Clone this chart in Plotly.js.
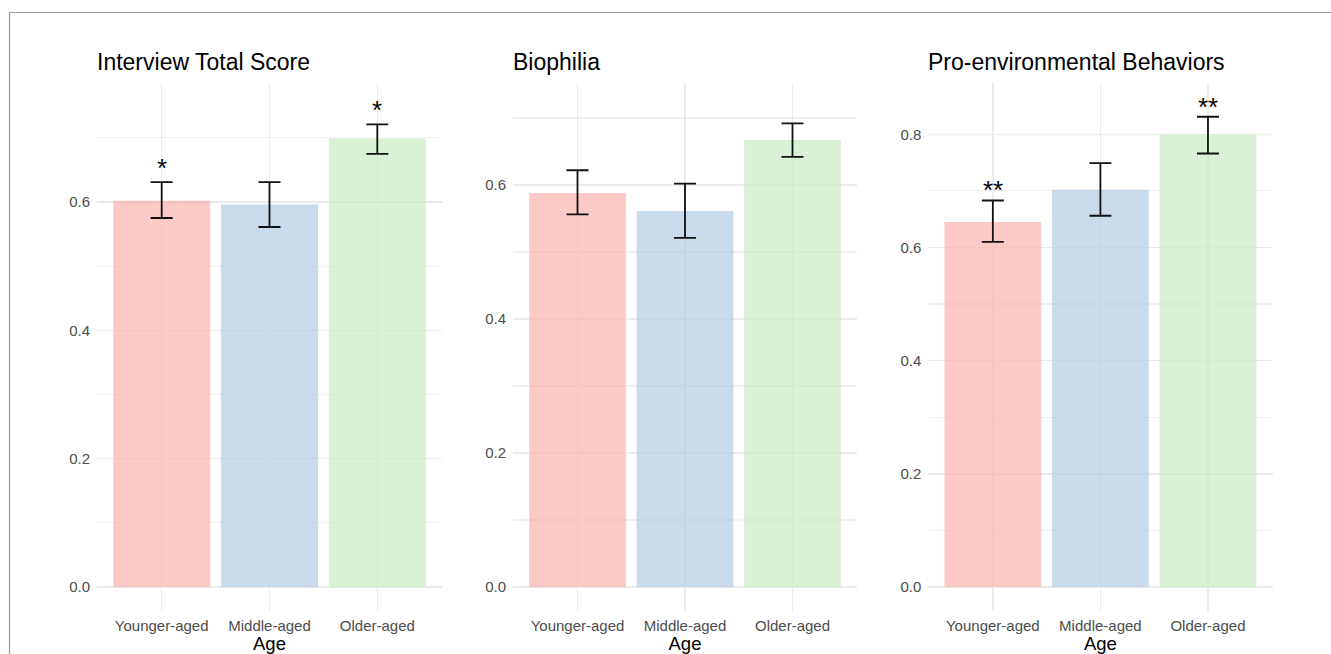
<!DOCTYPE html>
<html><head><meta charset="utf-8">
<script src="https://cdn.plot.ly/plotly-3.0.1.min.js"></script>
<style>html,body{margin:0;padding:0;background:#fff}#chart{width:1331px;height:654px}</style>
</head><body><div id="chart"></div>
<script>
// ---- data ----
const categories = ["Younger-aged", "Middle-aged", "Older-aged"];
const panelTitles = ["Interview Total Score", "Biophilia", "Pro-environmental Behaviors"];
const xAxisTitle = "Age";

const interviewMean  = [0.602, 0.596, 0.699];
const interviewLower = [0.575, 0.561, 0.675];
const interviewUpper = [0.631, 0.631, 0.721];
const interviewSig   = ["*", "", "*"];

const biophiliaMean  = [0.588, 0.561, 0.667];
const biophiliaLower = [0.556, 0.521, 0.642];
const biophiliaUpper = [0.622, 0.602, 0.692];
const biophiliaSig   = ["", "", ""];

const behaviorMean  = [0.645, 0.702, 0.800];
const behaviorLower = [0.610, 0.656, 0.766];
const behaviorUpper = [0.683, 0.749, 0.831];
const behaviorSig   = ["**", "", "**"];

// ---- styling ----
const W = 1331, H = 654;
const barColors = ["rgba(251,180,174,0.7)", "rgba(179,205,227,0.7)", "rgba(204,235,197,0.7)"];
const FONT = '"Liberation Sans", Arial, Helvetica, sans-serif';
const panels = [
  {mean: interviewMean, lo: interviewLower, hi: interviewUpper, sig: interviewSig,
   px: [97, 442], yr: [-0.0374, 0.7854], sigShift: 14},
  {mean: biophiliaMean, lo: biophiliaLower, hi: biophiliaUpper, sig: biophiliaSig,
   px: [513, 857], yr: [-0.0358, 0.7522], sigShift: 14},
  {mean: behaviorMean, lo: behaviorLower, hi: behaviorUpper, sig: behaviorSig,
   px: [928.3, 1272.5], yr: [-0.0424, 0.8906], sigShift: 10}
];
const yDom = [1 - 611 / H, 1 - 83 / H];

const traces = [];
const layout = {
  width: W, height: H,
  margin: {l: 0, r: 0, t: 0, b: 0},
  paper_bgcolor: "#ffffff", plot_bgcolor: "#ffffff",
  showlegend: false,
  font: {family: FONT, color: "#000"},
  annotations: [],
  shapes: [{
    type: "rect", xref: "paper", yref: "paper",
    x0: 9.5 / W, x1: 1.02, y0: -0.02, y1: 1 - 12.5 / H,
    line: {color: "#9a9a9a", width: 1.2}, fillcolor: "rgba(0,0,0,0)", layer: "above"
  }]
};

panels.forEach((p, i) => {
  const n = i === 0 ? "" : String(i + 1);
  const xa = "x" + n, ya = "y" + n;
  traces.push({
    type: "bar", x: categories, y: p.mean, xaxis: xa, yaxis: ya,
    width: 0.9,
    marker: {color: barColors, line: {width: 0}},
    error_y: {
      type: "data", symmetric: false,
      array: p.hi.map((h, k) => h - p.mean[k]),
      arrayminus: p.lo.map((l, k) => p.mean[k] - l),
      color: "#111111", thickness: 1.8, width: 11
    },
    hoverinfo: "none"
  });
  layout["xaxis" + n] = {
    domain: [p.px[0] / W, p.px[1] / W], anchor: ya,
    type: "category", range: [-0.6, 2.6], fixedrange: true,
    showgrid: true, gridcolor: "#ebebeb", gridwidth: 1.4,
    showline: false, zeroline: false, ticks: "", automargin: false,
    tickfont: {family: FONT, size: 15, color: "#4d4d4d"},
    ticklabelstandoff: 4,
    title: {text: xAxisTitle, font: {family: FONT, size: 18.5, color: "#000"}, standoff: 2}
  };
  layout["yaxis" + n] = {
    domain: yDom, anchor: xa, range: p.yr, fixedrange: true,
    dtick: 0.2, tick0: 0, tickformat: ".1f",
    showgrid: true, gridcolor: "#ebebeb", gridwidth: 1.4,
    minor: {dtick: 0.1, tick0: 0, showgrid: true, gridcolor: "#efefef", gridwidth: 1.2},
    showline: false, zeroline: false, ticks: "", automargin: false,
    tickfont: {family: FONT, size: 15, color: "#4d4d4d"},
    ticklabelstandoff: 6
  };
  layout.annotations.push({
    xref: "paper", yref: "paper", x: (p.px[0] - 2) / W, y: 1 - 62 / H,
    xanchor: "left", yanchor: "middle", showarrow: false,
    text: panelTitles[i], font: {family: FONT, size: 23, color: "#000"}
  });
  p.sig.forEach((s, k) => {
    if (!s) return;
    layout.annotations.push({
      xref: xa, yref: ya, x: categories[k], y: p.hi[k],
      xanchor: "center", yanchor: "middle", yshift: p.sigShift, showarrow: false,
      text: s, font: {family: FONT, size: 26, color: "#000"}
    });
  });
});

Plotly.newPlot("chart", traces, layout, {staticPlot: true, displayModeBar: false});
</script>
</body></html>
